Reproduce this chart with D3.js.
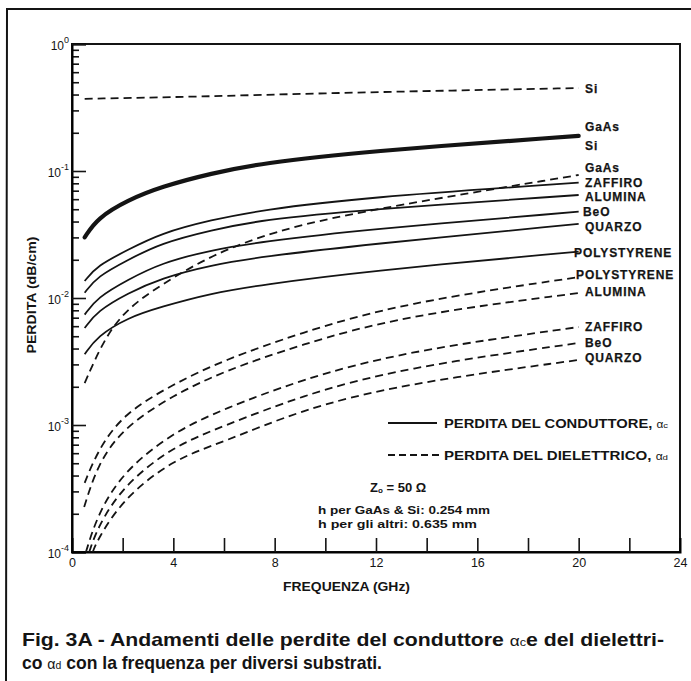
<!DOCTYPE html>
<html><head><meta charset="utf-8">
<script src="https://cdn.jsdelivr.net/npm/d3@7"></script>
<style>body{margin:0;background:#fff}svg{display:block}</style>
</head><body><svg id="c" width="691" height="681"></svg>
<script>
// ---------- data ----------
// conductor losses (solid lines), dB/cm
const condFreq        = [0.5, 1, 2.2, 3.5, 5.5, 7.5, 11.4, 20];
const condGaAsSi      = [0.030, 0.0426, 0.059, 0.075, 0.096, 0.115, 0.142, 0.189];
const condZaffiro     = [0.0136, 0.0180, 0.0239, 0.0323, 0.0412, 0.0493, 0.0616, 0.0809];
const condAlumina     = [0.0110, 0.0148, 0.0199, 0.0270, 0.0343, 0.0412, 0.0493, 0.0647];
const condBeO         = [0.0074, 0.0101, 0.0139, 0.0188, 0.0239, 0.0277, 0.0343, 0.0478];
const condQuarzo      = [0.0058, 0.0079, 0.0109, 0.0143, 0.0182, 0.0211, 0.0261, 0.0383];
const condPolystyrene = [0.0036, 0.0050, 0.0070, 0.0085, 0.0109, 0.0127, 0.0161, 0.0232];

// dielectric losses (dashed lines), dB/cm
const dielSiFreq = [0.5, 5, 10, 15, 20];
const dielSi     = [0.37, 0.385, 0.41, 0.43, 0.45];
const dielGaAsFreq = [0.5, 1.3, 2.2, 3.5, 5.5, 8, 11.4, 20];
const dielGaAs     = [0.00214, 0.00493, 0.00834, 0.01265, 0.0218, 0.0337, 0.0484, 0.093];
const dielPolystyreneFreq = [0.5, 1, 2, 4, 6, 9, 13, 20];
const dielPolystyrene     = [0.00035, 0.00062, 0.00122, 0.0021, 0.00325, 0.0053, 0.0091, 0.0146];
const dielAluminaFreq = [0.48, 1, 2, 4, 6, 9, 13, 20];
const dielAlumina     = [0.000226, 0.000484, 0.000947, 0.00172, 0.00266, 0.00427, 0.00722, 0.01094];
const dielZaffiroFreq = [0.55, 1, 2, 4, 6, 9, 13, 20];
const dielZaffiro     = [0.0001, 0.000195, 0.000427, 0.000881, 0.00134, 0.00226, 0.00376, 0.00591];
const dielBeOFreq = [0.68, 1, 2, 4, 6, 9, 13, 20];
const dielBeO     = [0.0001, 0.000155, 0.000331, 0.000684, 0.000982, 0.00169, 0.00281, 0.00442];
const dielQuarzoFreq = [0.82, 1, 2, 4, 6, 9, 13, 20];
const dielQuarzo     = [0.0001, 0.000124, 0.000261, 0.00054, 0.000735, 0.00131, 0.0021, 0.00325];

const xTickLabels = [0, 4, 8, 12, 16, 20, 24];
const xTickMarks  = [2, 4, 6, 8, 10, 12, 14, 16, 18, 20, 22];
const yDecades    = [1, 0.1, 0.01, 0.001, 0.0001];
const yExponents  = ["0", "-1", "-2", "-3", "-4"];
const curveLabels = ["Si", "GaAs", "Si", "GaAs", "ZAFFIRO", "ALUMINA", "BeO", "QUARZO",
                     "POLYSTYRENE", "POLYSTYRENE", "ALUMINA", "ZAFFIRO", "BeO", "QUARZO"];

// ---------- layout ----------
const svg = d3.select("#c");
const FONT = "'Liberation Sans', Arial, Helvetica, sans-serif";
const INK = "#141414";
const L = 72, R = 680, T = 44, B = 552;
const x = d3.scaleLinear().domain([0, 24]).range([L, R]);
const y = d3.scaleLog().domain([1e-4, 1]).range([B, T]);

// page frame
svg.append("path").attr("d", "M6,681 L7,9 L691,9").attr("fill", "none")
  .attr("stroke", INK).attr("stroke-width", 2);

// plot frame
svg.append("rect").attr("x", L).attr("y", T).attr("width", R - L).attr("height", B - T)
  .attr("fill", "none").attr("stroke", INK).attr("stroke-width", 2);

// y axis minor ticks
const minorVals = [];
[1e-4, 1e-3, 1e-2, 1e-1].forEach(d => { for (let k = 2; k <= 9; k++) minorVals.push(d * k); });
const gyMin = svg.append("g").attr("transform", `translate(${L},0)`)
  .call(d3.axisLeft(y).tickValues(minorVals).tickSize(-7).tickFormat(""));
gyMin.select(".domain").remove();
const gy = svg.append("g").attr("transform", `translate(${L},0)`)
  .call(d3.axisLeft(y).tickValues(yDecades).tickSize(-14).tickPadding(3).tickFormat(""));
gy.select(".domain").attr("stroke-width", 2);
gy.selectAll(".tick text").each(function(d, i) {
  const t = d3.select(this).attr("font-family", FONT).attr("font-size", 12).attr("fill", INK)
    .attr("dy", "0.42em");
  t.append("tspan").text("10");
  t.append("tspan").attr("font-size", 9).attr("dy", "-0.75em").text(yExponents[i]);
});
[gy, gyMin].forEach(g => g.selectAll(".tick line").attr("stroke", INK).attr("stroke-width", 1.6));

// x axis
const gx = svg.append("g").attr("transform", `translate(0,${B})`)
  .call(d3.axisBottom(x).tickValues(xTickMarks).tickSize(-14).tickFormat(""));
gx.select(".domain").attr("stroke-width", 2);
gx.selectAll(".tick line").attr("stroke", INK).attr("stroke-width", 1.6);
const gxl = svg.append("g").attr("transform", `translate(0,${B})`)
  .call(d3.axisBottom(x).tickValues(xTickLabels).tickSize(0).tickPadding(6).tickFormat(d3.format("d")));
gxl.select(".domain").remove();
gxl.selectAll(".tick text").attr("font-family", FONT).attr("font-size", 12.5).attr("fill", INK);

// curves
const line = d3.line().x(d => x(d[0])).y(d => y(d[1])).curve(d3.curveBasis);
const zip = (f, v) => f.map((ff, i) => [ff, v[i]]);
const series = [
  {f: dielSiFreq, v: dielSi, dash: true},
  {f: condFreq, v: condGaAsSi, w: 4.2},
  {f: dielGaAsFreq, v: dielGaAs, dash: true},
  {f: condFreq, v: condZaffiro},
  {f: condFreq, v: condAlumina},
  {f: condFreq, v: condBeO},
  {f: condFreq, v: condQuarzo},
  {f: condFreq, v: condPolystyrene},
  {f: dielPolystyreneFreq, v: dielPolystyrene, dash: true},
  {f: dielAluminaFreq, v: dielAlumina, dash: true},
  {f: dielZaffiroFreq, v: dielZaffiro, dash: true},
  {f: dielBeOFreq, v: dielBeO, dash: true},
  {f: dielQuarzoFreq, v: dielQuarzo, dash: true}
];
svg.append("g").selectAll("path").data(series).join("path")
  .attr("d", s => line(zip(s.f, s.v)))
  .attr("fill", "none").attr("stroke", INK)
  .attr("stroke-width", s => s.w || 1.8)
  .attr("stroke-linecap", s => s.w ? "round" : "butt")
  .attr("stroke-dasharray", s => s.dash ? "8,5" : null);

// curve labels at the right
const labelPos = [[585, 89], [585, 127], [585, 146], [585, 168], [585, 183], [585, 197],
  [583, 212], [585, 227], [574, 253], [576, 275], [585, 292], [585, 327], [585, 343], [585, 358]];
svg.append("g").selectAll("text").data(curveLabels).join("text")
  .attr("x", (d, i) => labelPos[i][0]).attr("y", (d, i) => labelPos[i][1])
  .attr("dy", "0.36em").attr("font-family", FONT).attr("font-weight", "bold")
  .attr("font-size", 12).attr("letter-spacing", 0.9).attr("fill", INK)
  .attr("stroke", INK).attr("stroke-width", 0.25).text(d => d);

// axis titles
svg.append("text").attr("transform", "translate(36,295) rotate(-90)")
  .attr("text-anchor", "middle").attr("font-family", FONT).attr("font-weight", "bold")
  .attr("font-size", 12.5).attr("fill", INK).attr("textLength", 117)
  .attr("lengthAdjust", "spacingAndGlyphs").text("PERDITA (dB/cm)");
svg.append("text").attr("x", 283).attr("y", 591).attr("font-family", FONT)
  .attr("font-weight", "bold").attr("font-size", 12).attr("fill", INK)
  .attr("textLength", 127).attr("lengthAdjust", "spacingAndGlyphs").text("FREQUENZA (GHz)");

// legend
svg.append("line").attr("x1", 388).attr("x2", 437).attr("y1", 423).attr("y2", 423)
  .attr("stroke", INK).attr("stroke-width", 1.8);
svg.append("line").attr("x1", 388).attr("x2", 441).attr("y1", 455).attr("y2", 455)
  .attr("stroke", INK).attr("stroke-width", 1.8).attr("stroke-dasharray", "7,4");
function legText(yb, main, sub, len) {
  const t = svg.append("text").attr("x", 444).attr("y", yb).attr("font-family", FONT)
    .attr("font-weight", "bold").attr("font-size", 12.5).attr("fill", INK)
    .attr("textLength", len).attr("lengthAdjust", "spacingAndGlyphs");
  t.append("tspan").text(main + " ");
  t.append("tspan").attr("font-weight", "normal").attr("font-size", 10).text("α");
  t.append("tspan").attr("font-weight", "normal").attr("font-size", 8).text(sub);
}
legText(428, "PERDITA DEL CONDUTTORE,", "c", 224);
legText(460, "PERDITA DEL DIELETTRICO,", "d", 224);

// notes
const z = svg.append("text").attr("x", 370).attr("y", 492).attr("font-family", FONT)
  .attr("font-weight", "bold").attr("font-size", 13).attr("fill", INK);
z.append("tspan").text("Z");
z.append("tspan").attr("font-size", 8).attr("dy", 1).text("o");
z.append("tspan").attr("dy", -1).text(" = 50 Ω");
svg.append("text").attr("x", 318).attr("y", 514).attr("font-family", FONT)
  .attr("font-weight", "bold").attr("font-size", 11.5).attr("fill", INK)
  .attr("textLength", 172).attr("lengthAdjust", "spacingAndGlyphs").text("h per GaAs & Si: 0.254 mm");
svg.append("text").attr("x", 318).attr("y", 528).attr("font-family", FONT)
  .attr("font-weight", "bold").attr("font-size", 11.5).attr("fill", INK)
  .attr("textLength", 159).attr("lengthAdjust", "spacingAndGlyphs").text("h per gli altri: 0.635 mm");

// caption
function cap(yb, parts, len) {
  const t = svg.append("text").attr("x", 22).attr("y", yb).attr("font-family", FONT)
    .attr("font-weight", "bold").attr("font-size", 18.5).attr("fill", INK)
    .attr("textLength", len).attr("lengthAdjust", "spacingAndGlyphs");
  parts.forEach(p => {
    const s = t.append("tspan").text(p.t);
    if (p.a) s.attr("font-weight", "normal").attr("font-size", 15);
    if (p.s) s.attr("font-weight", "normal").attr("font-size", 11);
  });
}
cap(646, [{t: "Fig. 3A - Andamenti delle perdite del conduttore "}, {t: "α", a: 1}, {t: "c", s: 1},
  {t: "e del dielettri-"}], 642);
cap(669, [{t: "co "}, {t: "α", a: 1}, {t: "d", s: 1}, {t: " con la frequenza per diversi substrati."}], 360);
</script></body></html>
